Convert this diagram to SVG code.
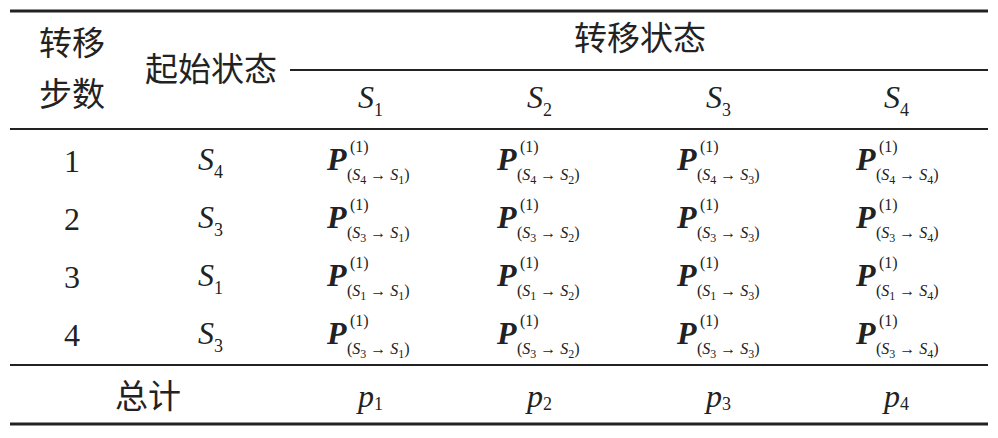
<svg xmlns="http://www.w3.org/2000/svg" width="998" height="438" viewBox="0 0 998 438">
<style>
.cj{font-family:"Noto Sans CJK SC",sans-serif;font-size:33px;fill:#222}
.n{font-family:"Liberation Serif",serif;font-size:32px;fill:#222}
.i{font-family:"Liberation Serif",serif;font-style:italic;font-size:32px;fill:#222}
.s{font-size:18px;font-style:normal}
.P{font-family:"Liberation Serif",serif;font-style:italic;font-weight:bold;font-size:32px;fill:#222}
.sm{font-family:"Liberation Serif",serif;font-size:16px;fill:#222}
.si{font-style:italic}
.ss{font-size:12px}
line{stroke:#222}
</style>
<g id="rules">
<line x1="10" y1="11" x2="988" y2="11" stroke-width="3"/>
<line x1="290" y1="70" x2="988" y2="70" stroke-width="2"/>
<line x1="10" y1="129" x2="988" y2="129" stroke-width="2"/>
<line x1="10" y1="365" x2="988" y2="365" stroke-width="2"/>
<line x1="10" y1="424" x2="988" y2="424" stroke-width="3"/>
</g>
<g id="header">
<text class="cj" x="72" y="55" text-anchor="middle">转移</text>
<text class="cj" x="72" y="106" text-anchor="middle">步数</text>
<text class="cj" x="211" y="81" text-anchor="middle">起始状态</text>
<text class="cj" x="640" y="50" text-anchor="middle">转移状态</text>
<text class="i" x="358" y="108">S<tspan class="s" dy="8">1</tspan></text>
<text class="i" x="527" y="108">S<tspan class="s" dy="8">2</tspan></text>
<text class="i" x="706" y="108">S<tspan class="s" dy="8">3</tspan></text>
<text class="i" x="884" y="108">S<tspan class="s" dy="8">4</tspan></text>
</g>
<g id="rows">
<text class="n" x="72" y="172" text-anchor="middle">1</text>
<text class="n" x="72" y="230" text-anchor="middle">2</text>
<text class="n" x="72" y="288" text-anchor="middle">3</text>
<text class="n" x="72" y="346" text-anchor="middle">4</text>
<text class="i" x="198" y="170">S<tspan class="s" dy="8">4</tspan></text>
<text class="i" x="198" y="228">S<tspan class="s" dy="8">3</tspan></text>
<text class="i" x="198" y="286">S<tspan class="s" dy="8">1</tspan></text>
<text class="i" x="198" y="344">S<tspan class="s" dy="8">3</tspan></text>
</g>
<g id="cells">
<g id="r1">
<text class="P" x="327" y="170">P</text><text class="sm" x="350" y="152">(1)</text><text class="sm" x="347" y="180">(<tspan class="si">S</tspan><tspan class="ss" dy="4">4</tspan><tspan dy="-4"> → </tspan><tspan class="si">S</tspan><tspan class="ss" dy="4">1</tspan><tspan dy="-4">)</tspan></text>
<text class="P" x="497" y="170">P</text><text class="sm" x="520" y="152">(1)</text><text class="sm" x="517" y="180">(<tspan class="si">S</tspan><tspan class="ss" dy="4">4</tspan><tspan dy="-4"> → </tspan><tspan class="si">S</tspan><tspan class="ss" dy="4">2</tspan><tspan dy="-4">)</tspan></text>
<text class="P" x="677" y="170">P</text><text class="sm" x="700" y="152">(1)</text><text class="sm" x="697" y="180">(<tspan class="si">S</tspan><tspan class="ss" dy="4">4</tspan><tspan dy="-4"> → </tspan><tspan class="si">S</tspan><tspan class="ss" dy="4">3</tspan><tspan dy="-4">)</tspan></text>
<text class="P" x="856" y="170">P</text><text class="sm" x="879" y="152">(1)</text><text class="sm" x="876" y="180">(<tspan class="si">S</tspan><tspan class="ss" dy="4">4</tspan><tspan dy="-4"> → </tspan><tspan class="si">S</tspan><tspan class="ss" dy="4">4</tspan><tspan dy="-4">)</tspan></text>
</g>
<g id="r2">
<text class="P" x="327" y="228">P</text><text class="sm" x="350" y="210">(1)</text><text class="sm" x="347" y="238">(<tspan class="si">S</tspan><tspan class="ss" dy="4">3</tspan><tspan dy="-4"> → </tspan><tspan class="si">S</tspan><tspan class="ss" dy="4">1</tspan><tspan dy="-4">)</tspan></text>
<text class="P" x="497" y="228">P</text><text class="sm" x="520" y="210">(1)</text><text class="sm" x="517" y="238">(<tspan class="si">S</tspan><tspan class="ss" dy="4">3</tspan><tspan dy="-4"> → </tspan><tspan class="si">S</tspan><tspan class="ss" dy="4">2</tspan><tspan dy="-4">)</tspan></text>
<text class="P" x="677" y="228">P</text><text class="sm" x="700" y="210">(1)</text><text class="sm" x="697" y="238">(<tspan class="si">S</tspan><tspan class="ss" dy="4">3</tspan><tspan dy="-4"> → </tspan><tspan class="si">S</tspan><tspan class="ss" dy="4">3</tspan><tspan dy="-4">)</tspan></text>
<text class="P" x="856" y="228">P</text><text class="sm" x="879" y="210">(1)</text><text class="sm" x="876" y="238">(<tspan class="si">S</tspan><tspan class="ss" dy="4">3</tspan><tspan dy="-4"> → </tspan><tspan class="si">S</tspan><tspan class="ss" dy="4">4</tspan><tspan dy="-4">)</tspan></text>
</g>
<g id="r3">
<text class="P" x="327" y="286">P</text><text class="sm" x="350" y="268">(1)</text><text class="sm" x="347" y="296">(<tspan class="si">S</tspan><tspan class="ss" dy="4">1</tspan><tspan dy="-4"> → </tspan><tspan class="si">S</tspan><tspan class="ss" dy="4">1</tspan><tspan dy="-4">)</tspan></text>
<text class="P" x="497" y="286">P</text><text class="sm" x="520" y="268">(1)</text><text class="sm" x="517" y="296">(<tspan class="si">S</tspan><tspan class="ss" dy="4">1</tspan><tspan dy="-4"> → </tspan><tspan class="si">S</tspan><tspan class="ss" dy="4">2</tspan><tspan dy="-4">)</tspan></text>
<text class="P" x="677" y="286">P</text><text class="sm" x="700" y="268">(1)</text><text class="sm" x="697" y="296">(<tspan class="si">S</tspan><tspan class="ss" dy="4">1</tspan><tspan dy="-4"> → </tspan><tspan class="si">S</tspan><tspan class="ss" dy="4">3</tspan><tspan dy="-4">)</tspan></text>
<text class="P" x="856" y="286">P</text><text class="sm" x="879" y="268">(1)</text><text class="sm" x="876" y="296">(<tspan class="si">S</tspan><tspan class="ss" dy="4">1</tspan><tspan dy="-4"> → </tspan><tspan class="si">S</tspan><tspan class="ss" dy="4">4</tspan><tspan dy="-4">)</tspan></text>
</g>
<g id="r4">
<text class="P" x="327" y="344">P</text><text class="sm" x="350" y="326">(1)</text><text class="sm" x="347" y="354">(<tspan class="si">S</tspan><tspan class="ss" dy="4">3</tspan><tspan dy="-4"> → </tspan><tspan class="si">S</tspan><tspan class="ss" dy="4">1</tspan><tspan dy="-4">)</tspan></text>
<text class="P" x="497" y="344">P</text><text class="sm" x="520" y="326">(1)</text><text class="sm" x="517" y="354">(<tspan class="si">S</tspan><tspan class="ss" dy="4">3</tspan><tspan dy="-4"> → </tspan><tspan class="si">S</tspan><tspan class="ss" dy="4">2</tspan><tspan dy="-4">)</tspan></text>
<text class="P" x="677" y="344">P</text><text class="sm" x="700" y="326">(1)</text><text class="sm" x="697" y="354">(<tspan class="si">S</tspan><tspan class="ss" dy="4">3</tspan><tspan dy="-4"> → </tspan><tspan class="si">S</tspan><tspan class="ss" dy="4">3</tspan><tspan dy="-4">)</tspan></text>
<text class="P" x="856" y="344">P</text><text class="sm" x="879" y="326">(1)</text><text class="sm" x="876" y="354">(<tspan class="si">S</tspan><tspan class="ss" dy="4">3</tspan><tspan dy="-4"> → </tspan><tspan class="si">S</tspan><tspan class="ss" dy="4">4</tspan><tspan dy="-4">)</tspan></text>
</g>
</g>
<g id="total">
<text class="cj" x="148" y="408" text-anchor="middle">总计</text>
<text class="i" x="358" y="407">p<tspan class="s" dy="3">1</tspan></text>
<text class="i" x="527" y="407">p<tspan class="s" dy="3">2</tspan></text>
<text class="i" x="706" y="407">p<tspan class="s" dy="3">3</tspan></text>
<text class="i" x="884" y="407">p<tspan class="s" dy="3">4</tspan></text>
</g>
</svg>
